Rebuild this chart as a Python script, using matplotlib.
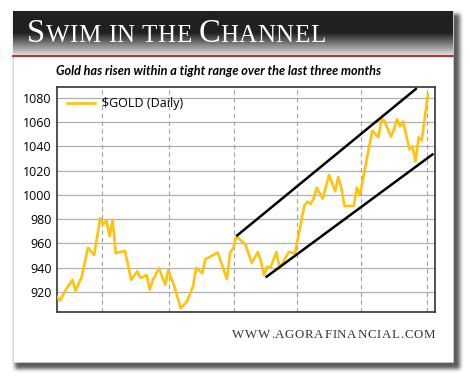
import numpy as np
import matplotlib
matplotlib.use('Agg')
from matplotlib import pyplot as plt
from matplotlib.patches import Rectangle

# Gold daily close (trading day index, price)
days = [0, 1, 3, 5, 6, 8, 10, 12, 14, 15, 16, 17, 18, 19, 22, 24, 26, 27,
        29, 30, 31, 33, 35, 36, 38, 40, 42, 44, 45, 47, 48, 52, 55, 56, 57,
        58, 61, 63, 65, 66, 67, 68, 69, 71, 72, 75, 77, 80, 81, 82, 83, 84,
        86, 88, 90, 91, 92, 93, 96, 97, 98, 102, 104, 105, 106, 108, 109,
        110, 111, 112, 114, 115, 116, 117, 118, 120]
gold = [916, 913, 922.5, 930, 921, 932.5, 956.5, 950.5, 981, 976, 979, 966,
        979.5, 952, 954, 930, 937, 931.5, 934, 922, 930, 939.5, 926, 938,
        924.5, 906.5, 912, 924.5, 939.5, 935.5, 947, 952.5, 930.5, 952.5,
        956, 966, 959, 944, 953, 945, 934, 941, 940, 953, 939.5, 953, 952,
        991, 994.5, 992.5, 997, 1006, 997, 1016.5, 1003, 1015, 1005.5, 991,
        991, 1006, 1000, 1053, 1047.5, 1062.5, 1061, 1048, 1054, 1062.5,
        1056.5, 1060.5, 1037.5, 1040, 1027.5, 1047.5, 1045, 1082.5]

# trend channel drawn on the chart
upper_days = [58, 116.4]
upper_vals = [966, 1088]
lower_days = [67.5, 121.8]
lower_vals = [932, 1034]

month_marks = [14.7, 36.1, 57.3, 77.7, 98.3, 119.6]
yticks = list(range(920, 1081, 20))

title = 'Swim in the Channel'
subtitle = 'Gold has risen within a tight range over the last three months'
footer = 'WWW.AGORAFINANCIAL.COM'

W, H = 470, 382
fig = plt.figure(figsize=(W / 100, H / 100), dpi=100)
renderer = fig.canvas.get_renderer()
bg = fig.add_axes([0, 0, 1, 1])


def tracked_text(chars, x0, y, x1, **kw):
    '''
    Write (char, size) pieces one at a time from x0 so the run ends at x1
    '''
    arts = []
    for ch, size in chars:
        arts.append(bg.text(0, y, ch, fontsize=size, va='baseline', **kw))
    widths = [a.get_window_extent(renderer).width for a in arts]
    gap = (x1 - x0 - sum(widths)) / max(len(arts) - 1, 1)
    x = x0
    for a, w in zip(arts, widths):
        a.set_x(x)
        x += w + gap


def fit_text(s, x0, y, x1, size, **kw):
    '''
    Single text scaled so that it spans x0..x1
    '''
    t = bg.text(x0, y, s, fontsize=size, va='baseline', **kw)
    w = t.get_window_extent(renderer).width
    t.set_fontsize(size * (x1 - x0) / w)
    return t


bg.set_xlim(0, W)
bg.set_ylim(H, 0)
bg.axis('off')

# soft drop shadow behind the card
mask = np.zeros((H, W))
mask[14:369, 15:460] = 1.0
for _ in range(10):
    mask = (mask + np.roll(mask, 1, 0) + np.roll(mask, -1, 0)
            + np.roll(mask, 1, 1) + np.roll(mask, -1, 1)) / 5
shadow = np.zeros((H, W, 4))
shadow[..., 3] = mask * 0.65
bg.imshow(shadow, extent=(0, W, H, 0), interpolation='bilinear', zorder=0)

bg.add_patch(Rectangle((13, 11), 440, 351, fc='white', ec='#d0d0d0',
                       lw=0.5, zorder=1))

# header gradient: dark at top, fading to light grey at the red rule
t = np.linspace(0, 1, 60)
shade = np.where(t < 0.5, 0.13, 0.13 + (t - 0.5) / 0.5 * 0.72)
grad = np.repeat(shade[:, None], 2, axis=1)
bg.imshow(grad, cmap='gray', vmin=0, vmax=1, extent=(13, 453, 55, 11),
          aspect='auto', interpolation='bilinear', zorder=2)
bg.plot([13, 453], [55.5, 55.5], color='#c8141c', lw=1.3, zorder=3)
bg.set_xlim(0, W)
bg.set_ylim(H, 0)

# small-caps title: capitals large, the rest as smaller capitals
pieces = []
for ch in title:
    pieces.append((ch.upper(), 23.5 if ch.isupper() else 18))
tracked_text(pieces, 27, 42, 325, family='Liberation Serif',
             color='white', zorder=4)

fit_text(subtitle, 56, 75, 380, 9, family='Lato', weight='bold',
         style='italic', color='black', zorder=4)
tracked_text([(c, 9.3) for c in footer], 232, 338, 435,
             family='Liberation Serif', color='#333333', zorder=4)

# chart area
left, right, top, bottom = 57, 435, 87, 312
ax = fig.add_axes([left / W, (H - bottom) / H, (right - left) / W,
                   (bottom - top) / H])
ax.set_zorder(5)
ax.plot(days, gold, color='#FFC20E', lw=1.9, label='\\$GOLD (Daily)',
        zorder=3)
ax.plot(upper_days, upper_vals, color='black', lw=1.8, zorder=4,
        solid_capstyle='butt')
ax.plot(lower_days, lower_vals, color='black', lw=1.8, zorder=4,
        solid_capstyle='butt')

ax.set_xlim(0, 122.3)
ax.set_ylim(903.5, 1089)
ax.set_yticks(yticks)
ax.set_yticklabels([str(v) for v in yticks], fontsize=9,
                   family='Open Sans')
ax.set_xticks(month_marks)
ax.set_xticklabels([])
ax.tick_params(length=0, pad=4)
for v in yticks:
    ax.axhline(v, color='#b0b0b0', lw=0.9, zorder=1)
for m in month_marks:
    ax.axvline(m, color='#a0a0a0', lw=0.8, ls=(0, (4, 3)), zorder=1)
for sp in ax.spines.values():
    sp.set_color('#333333')
    sp.set_linewidth(1.2)

leg = ax.legend(loc='upper left', frameon=False, handlelength=2.2,
                handletextpad=0.6, borderaxespad=0.3, borderpad=0.5,
                prop={'family': 'Open Sans', 'size': 9})

fig.savefig('out.png', dpi=100)
plt.close(fig)
